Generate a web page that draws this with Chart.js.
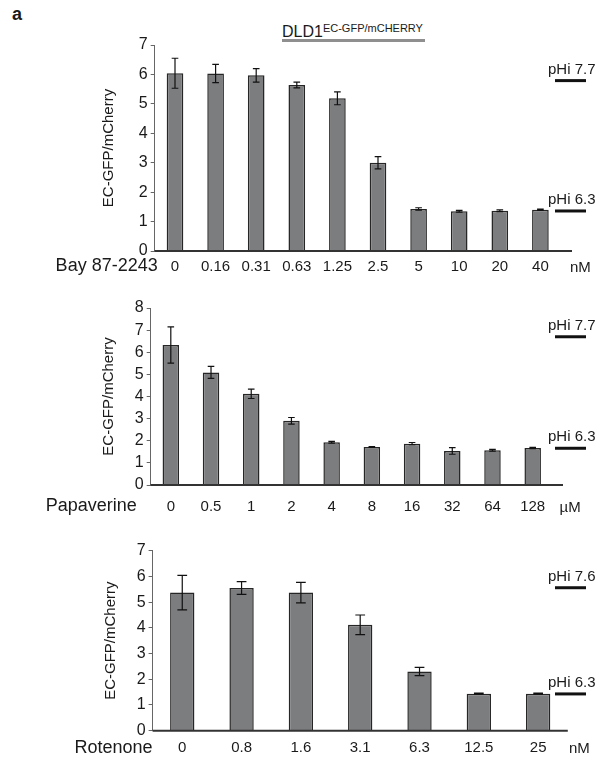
<!DOCTYPE html>
<html>
<head>
<meta charset="utf-8">
<script src="https://cdn.jsdelivr.net/npm/chart.js@4.4.1/dist/chart.umd.min.js"></script>
<style>
  html, body { margin: 0; padding: 0; background: #fff; }
  #wrap { position: relative; width: 603px; height: 761px; overflow: hidden;
          font-family: "Liberation Sans", Arial, sans-serif; color: #1a1a1a; }
  canvas { position: absolute; left: 0; }
  #tag { position: absolute; left: 12px; top: 5px; font-size: 18px; font-weight: bold; line-height: 18px; }
  #head { position: absolute; left: 282px; top: 20px; font-size: 16px; line-height: 16px; white-space: nowrap; }
  #head sup { font-size: 11px; vertical-align: 5px; }
  #headRule { position: absolute; left: 282px; top: 39px; width: 143px; height: 3px; background: #8f8f8f; }
</style>
</head>
<body>
<div id="wrap">
  <div id="tag">a</div>
  <div id="head">DLD1<sup>EC-GFP/mCHERRY</sup></div>
  <div id="headRule"></div>
  <canvas id="cBay" width="603" height="290" style="top:0px"></canvas>
  <canvas id="cPap" width="603" height="230" style="top:290px"></canvas>
  <canvas id="cRot" width="603" height="241" style="top:520px"></canvas>
</div>
<script>
// Bay 87-2243 dose series (nM)
const bayDoses = ['0', '0.16', '0.31', '0.63', '1.25', '2.5', '5', '10', '20', '40'];
const bayRatio = [6.04, 6.03, 5.97, 5.64, 5.19, 3.00, 1.43, 1.35, 1.37, 1.40];
const bayErr   = [0.51, 0.31, 0.23, 0.10, 0.22, 0.21, 0.04, 0.03, 0.03, 0.02];
const bayCalibLabels = ['pHi 7.7', 'pHi 6.3'];
const bayCalibValues = [5.79, 1.36];

// Papaverine dose series (µM)
const papDoses = ['0', '0.5', '1', '2', '4', '8', '16', '32', '64', '128'];
const papRatio = [6.33, 5.09, 4.12, 2.90, 1.93, 1.72, 1.87, 1.54, 1.57, 1.67];
const papErr   = [0.82, 0.27, 0.21, 0.15, 0.04, 0.02, 0.05, 0.15, 0.04, 0.03];
const papCalibLabels = ['pHi 7.7', 'pHi 6.3'];
const papCalibValues = [6.70, 1.66];

// Rotenone dose series (nM)
const rotDoses = ['0', '0.8', '1.6', '3.1', '6.3', '12.5', '25'];
const rotRatio = [5.37, 5.55, 5.37, 4.12, 2.30, 1.44, 1.44];
const rotErr   = [0.67, 0.25, 0.40, 0.38, 0.16, 0.02, 0.02];
const rotCalibLabels = ['pHi 7.6', 'pHi 6.3'];
const rotCalibValues = [5.56, 1.43];

const FONT = '"Liberation Sans", Arial, sans-serif';
Chart.defaults.font.family = FONT;
Chart.defaults.color = '#1a1a1a';

// Error bars, extended baseline, drug / unit labels and pHi calibration marks
const panelDecor = {
  id: 'panelDecor',
  afterDatasetsDraw(chart, args, o) {
    const { ctx, chartArea, scales: { x, y } } = chart;
    const W = chart.width;
    const data = chart.data.datasets[0].data;
    const meta = chart.getDatasetMeta(0);
    ctx.save();

    ctx.strokeStyle = '#111';
    ctx.lineWidth = 1.2;
    meta.data.forEach((bar, i) => {
      const v = data[i], e = o.err[i];
      const yt = y.getPixelForValue(v + e);
      const yb = y.getPixelForValue(v - e);
      const cap = bar.width * 0.2;
      ctx.beginPath();
      ctx.moveTo(bar.x, yt); ctx.lineTo(bar.x, yb);
      ctx.moveTo(bar.x - cap, yt); ctx.lineTo(bar.x + cap, yt);
      ctx.moveTo(bar.x - cap, yb); ctx.lineTo(bar.x + cap, yb);
      ctx.stroke();
    });

    ctx.strokeStyle = '#333';
    ctx.lineWidth = 2;
    ctx.beginPath();
    ctx.moveTo(chartArea.left, chartArea.bottom);
    ctx.lineTo(chartArea.right + o.axisExtend, chartArea.bottom);
    ctx.stroke();

    const labelY = chartArea.bottom + o.labelOffset;
    ctx.fillStyle = '#1a1a1a';
    ctx.textBaseline = 'middle';
    ctx.font = '18px ' + FONT;
    ctx.textAlign = 'right';
    ctx.fillText(o.drug, chartArea.left + o.drugShift, labelY);
    ctx.font = '15px ' + FONT;
    ctx.textAlign = 'left';
    ctx.fillText(o.unit, o.unitX, labelY + 1);

    o.calibValues.forEach((val, i) => {
      const py = y.getPixelForValue(val);
      ctx.strokeStyle = '#111';
      ctx.lineWidth = 3;
      ctx.beginPath();
      ctx.moveTo(W - 48, py); ctx.lineTo(W - 17, py);
      ctx.stroke();
      ctx.font = '15px ' + FONT;
      ctx.textAlign = 'left';
      ctx.fillText(o.calibLabels[i], W - 55, py - 11);
    });
    ctx.restore();
  }
};

function makePanel(id, cfg) {
  const H = document.getElementById(id).height;
  return new Chart(document.getElementById(id), {
    type: 'bar',
    data: {
      labels: cfg.labels,
      datasets: [{
        data: cfg.values,
        backgroundColor: '#7c7d7f',
        borderColor: '#262626',
        borderWidth: 1.5,
        barPercentage: 0.82,
        categoryPercentage: 0.5
      }]
    },
    options: {
      responsive: false,
      animation: false,
      devicePixelRatio: 1,
      layout: { padding: { left: cfg.padLeft, right: cfg.padRight, top: cfg.padTop, bottom: 0 } },
      plugins: {
        legend: { display: false },
        tooltip: { enabled: false },
        panelDecor: {
          err: cfg.err,
          axisExtend: cfg.axisExtend,
          labelOffset: cfg.xPad + 9,
          drug: cfg.drug,
          drugShift: cfg.drugShift,
          unit: cfg.unit,
          unitX: cfg.unitX,
          calibLabels: cfg.calibLabels,
          calibValues: cfg.calibValues
        }
      },
      scales: {
        x: {
          type: 'category',
          offset: true,
          grid: { display: false, drawTicks: false },
          border: { display: false },
          ticks: { font: { size: 15 }, padding: cfg.xPad, maxRotation: 0, autoSkip: false, color: '#1a1a1a' },
          afterFit: s => { s.height = H - cfg.bottom; }
        },
        y: {
          min: 0,
          max: cfg.yMax,
          ticks: { stepSize: 1, autoSkip: false, font: { size: 16 }, padding: 3, color: '#1a1a1a' },
          grid: { display: true, drawOnChartArea: false, drawTicks: true, tickLength: 4, color: '#666' },
          border: { display: true, color: '#666', width: 1 },
          title: { display: true, text: 'EC-GFP/mCherry', font: { size: 15 }, padding: { top: 0, bottom: 0 }, color: '#1a1a1a' },
          afterFit: s => { s.width = cfg.left - cfg.padLeft; }
        }
      }
    },
    plugins: [panelDecor]
  });
}

makePanel('cBay', {
  labels: bayDoses, values: bayRatio, err: bayErr,
  calibLabels: bayCalibLabels, calibValues: bayCalibValues,
  yMax: 7, padLeft: 100, left: 154.7, padRight: 42.3, padTop: 45, bottom: 251,
  xPad: 6.5, axisExtend: 11.3, drug: 'Bay 87-2243', drugShift: 3, unit: 'nM', unitX: 570
});

makePanel('cPap', {
  labels: papDoses, values: papRatio, err: papErr,
  calibLabels: papCalibLabels, calibValues: papCalibValues,
  yMax: 8, padLeft: 100, left: 150.7, padRight: 50.2, padTop: 18, bottom: 195,
  xPad: 12.5, axisExtend: 10.2, drug: 'Papaverine', drugShift: -14, unit: 'µM', unitX: 559.6
});

makePanel('cRot', {
  labels: rotDoses, values: rotRatio, err: rotErr,
  calibLabels: rotCalibLabels, calibValues: rotCalibValues,
  yMax: 7, padLeft: 102, left: 152.6, padRight: 35.2, padTop: 30.7, bottom: 210.7,
  xPad: 8, axisExtend: 0, drug: 'Rotenone', drugShift: 0, unit: 'nM', unitX: 569
});
</script>
</body>
</html>
